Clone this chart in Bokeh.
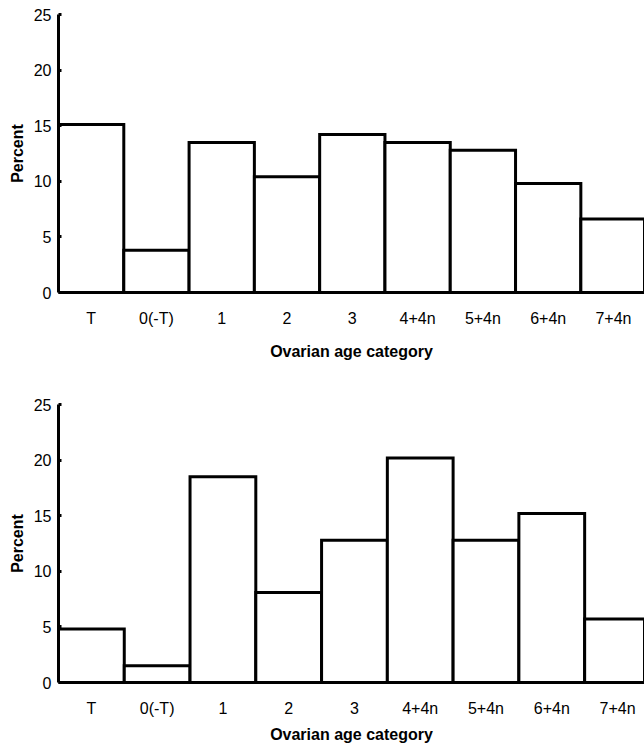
from bokeh.plotting import figure
from bokeh.layouts import column
from bokeh.models import FixedTicker, Range1d
from bokeh.embed import file_html
from bokeh.resources import INLINE

categories = ["T", "0(-T)", "1", "2", "3", "4+4n", "5+4n", "6+4n", "7+4n"]
percent_top = [15.1, 3.8, 13.5, 10.4, 14.2, 13.5, 12.8, 9.8, 6.6]
percent_bottom = [4.8, 1.5, 18.5, 8.1, 12.8, 20.2, 12.8, 15.2, 5.7]
y_ticks = [0, 5, 10, 15, 20, 25]
x_label = "Ovarian age category"
y_label = "Percent"

FONT = "Liberation Sans"


def make(values, height, x_end, b_top, b_bottom, b_left, xlab_standoff):
    p = figure(width=644, height=height,
               x_range=Range1d(0, x_end), y_range=Range1d(0, 25),
               output_backend="svg", toolbar_location=None,
               min_border_top=b_top, min_border_bottom=b_bottom,
               min_border_left=b_left, min_border_right=0)
    centers = [i + 0.5 for i in range(len(categories))]
    p.vbar(x=centers, top=values, bottom=0, width=1,
           fill_color="white", line_color="black", line_width=3,
           line_join="miter")
    p.outline_line_color = None
    p.xgrid.visible = False
    p.ygrid.visible = False
    p.background_fill_color = "white"
    p.border_fill_color = "white"

    xa = p.xaxis[0]
    xa.ticker = FixedTicker(ticks=centers)
    xa.major_label_overrides = {c: lab for c, lab in zip(centers, categories)}
    xa.major_tick_in = 0
    xa.major_tick_out = 0
    xa.minor_tick_in = 0
    xa.minor_tick_out = 0
    xa.axis_line_width = 3
    xa.axis_line_color = "black"
    xa.major_label_text_font = FONT
    xa.major_label_text_font_size = "16px"
    xa.major_label_text_color = "black"
    xa.major_label_standoff = 17
    xa.axis_label = x_label
    xa.axis_label_text_font = FONT
    xa.axis_label_text_font_style = "bold"
    xa.axis_label_text_font_size = "16px"
    xa.axis_label_text_color = "black"
    xa.axis_label_standoff = xlab_standoff

    ya = p.yaxis[0]
    ya.ticker = FixedTicker(ticks=y_ticks)
    ya.major_tick_in = 3
    ya.major_tick_out = 0
    ya.major_tick_line_width = 3
    ya.minor_tick_in = 0
    ya.minor_tick_out = 0
    ya.axis_line_width = 3
    ya.axis_line_color = "black"
    ya.major_label_text_font = FONT
    ya.major_label_text_font_size = "16px"
    ya.major_label_text_color = "black"
    ya.major_label_standoff = 7
    ya.axis_label = y_label
    ya.axis_label_text_font = FONT
    ya.axis_label_text_font_style = "bold"
    ya.axis_label_text_font_size = "16px"
    ya.axis_label_text_color = "black"
    ya.axis_label_standoff = 5
    return p


p1 = make(percent_top, 380, 8.975, 14, 88, 58, 13)
p2 = make(percent_bottom, 365, 8.91, 24, 63, 57, 6)

layout = column(p1, p2, spacing=0)

open("out.html", "w").write(file_html(layout, INLINE))
